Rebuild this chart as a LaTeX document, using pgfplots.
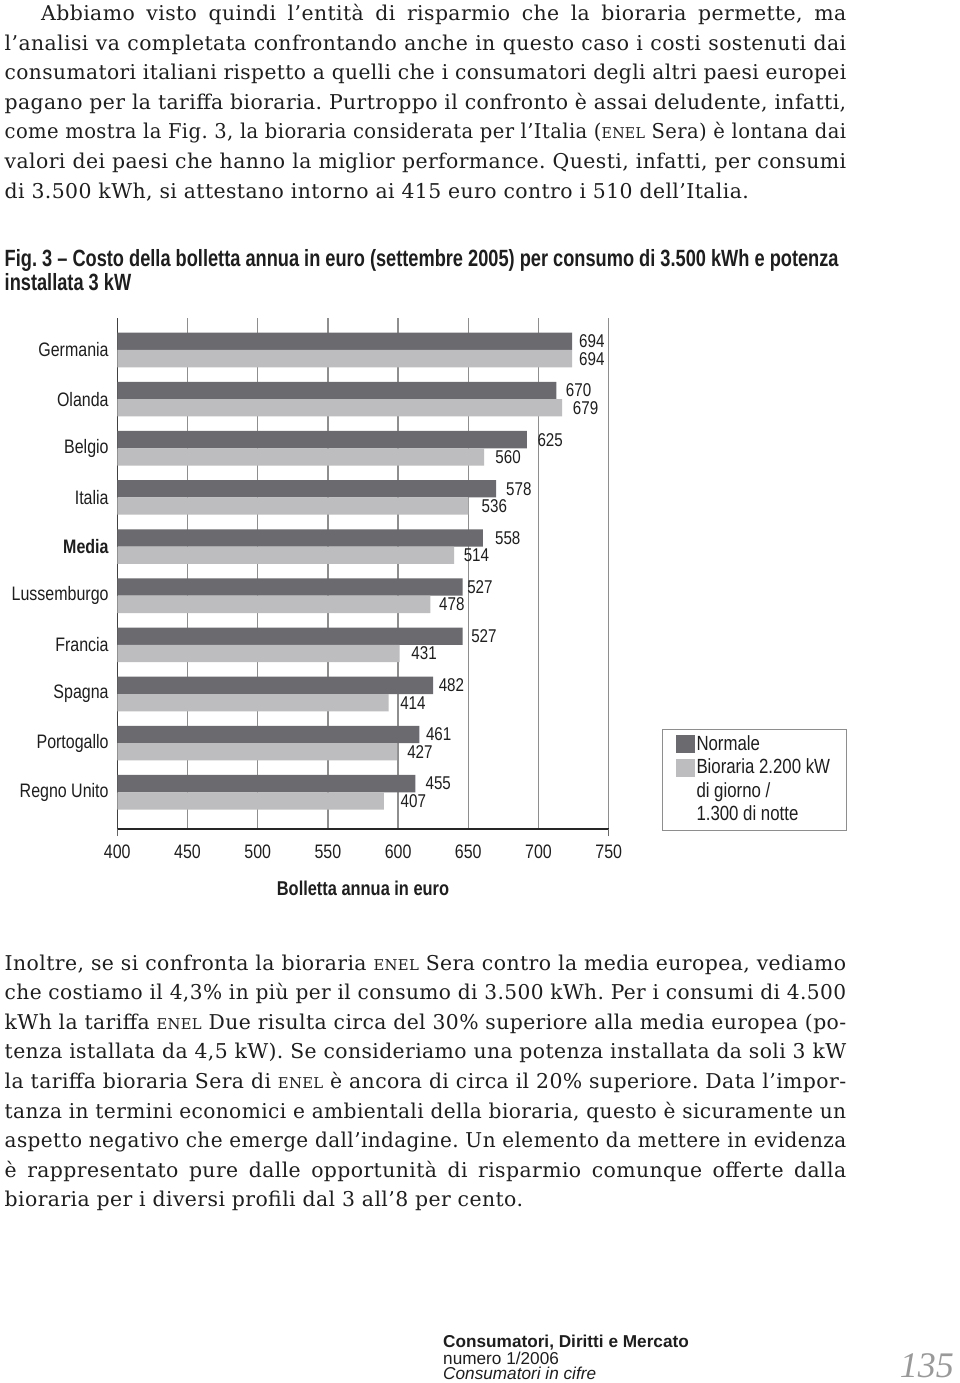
\documentclass[border=0pt]{standalone}
\usepackage{fontspec}
\usepackage{graphicx}
\usepackage{pgfplots}
\usepackage{pgfplotstable}
\pgfplotsset{compat=1.18}
\setmainfont[LetterSpace=2]{DejaVu Serif}
\newfontfamily\chartfont[FakeStretch=0.82]{Liberation Sans}
\newfontfamily\titlefont[FakeStretch=0.775]{Liberation Sans}
\newfontfamily\footfont{Liberation Sans}
\newfontfamily\pagefont{Liberation Serif}
\definecolor{darkbar}{HTML}{6A6A6F}
\definecolor{lightbar}{HTML}{BDBDBF}
\definecolor{gridcol}{HTML}{8E8E8E}
\definecolor{txt}{HTML}{1E1E1E}
\frenchspacing
\newlength\natw
\newcommand\jbox[2]{\settowidth\natw{#2}\ifdim\natw>#1\relax\resizebox{#1}{\height}{#2}\else\makebox[#1][s]{#2}\fi}
\newcommand\jl[3]{\node[anchor=base west, inner sep=0pt] at (#1,#2) {\jbox{\dimexpr846pt-#1pt\relax}{#3}};}
\newcommand\nl[3]{\node[anchor=base west, inner sep=0pt] at (#1,#2) {#3};}
\newcommand\enel{{\fontsize{14.8}{14.8}\selectfont ENEL}}

\pgfplotstableread{
y x dx
9 694 7
8 670 9.5
7 625 10.5
6 578 10
5 558 12
4 527 4.5
3 527 8.5
2 482 5.5
1 461 6.5
0 455 10
}\normale
\pgfplotstableread{
y x dx
9 694 7
8 679 10.5
7 560 11
6 536 13
5 514 9.5
4 478 8.5
3 431 11.5
2 414 11.5
1 427 10
0 407 16.5
}\bioraria

\begin{document}
\begin{tikzpicture}
\useasboundingbox (0pt,0pt) rectangle (960pt,-1383pt);
\fill[white] (0pt,0pt) rectangle (960pt,-1383pt);
\begin{scope}[x=1pt,y=-1pt, every node/.style={text=txt}, font=\fontsize{20.4}{24}\selectfont]
\jl{41}{20.5}{Abbiamo visto quindi l’entità di risparmio che la bioraria permette, ma}
\jl{4.5}{50.1}{l’analisi va completata confrontando anche in questo caso i costi sostenuti dai}
\jl{4.5}{79.7}{consumatori italiani rispetto a quelli che i consumatori degli altri paesi europei}
\jl{4.5}{109.3}{pagano per la tariffa bioraria. Purtroppo il confronto è assai deludente, infatti,}
\jl{4.5}{138.9}{come mostra la Fig. 3, la bioraria considerata per l’Italia (\enel{} Sera) è lontana dai}
\jl{4.5}{168.5}{valori dei paesi che hanno la miglior performance. Questi, infatti, per consumi}
\nl{4.5}{198.1}{di 3.500 kWh, si attestano intorno ai 415 euro contro i 510 dell’Italia.}

\jl{4.5}{970}{Inoltre, se si confronta la bioraria \enel{} Sera contro la media europea, vediamo}
\jl{4.5}{999.6}{che costiamo il 4,3\% in più per il consumo di 3.500 kWh. Per i consumi di 4.500}
\jl{4.5}{1029.2}{kWh la tariffa \enel{} Due risulta circa del 30\% superiore alla media europea (po-}
\jl{4.5}{1058.8}{tenza istallata da 4,5 kW). Se consideriamo una potenza installata da soli 3 kW}
\jl{4.5}{1088.4}{la tariffa bioraria Sera di \enel{} è ancora di circa il 20\% superiore. Data l’impor-}
\jl{4.5}{1118}{tanza in termini economici e ambientali della bioraria, questo è sicuramente un}
\jl{4.5}{1147.6}{aspetto negativo che emerge dall’indagine. Un elemento da mettere in evidenza}
\jl{4.5}{1177.2}{è rappresentato pure dalle opportunità di risparmio comunque offerte dalla}
\nl{4.5}{1206.8}{bioraria per i diversi profili dal 3 all’8 per cento.}

\begin{scope}[font=\titlefont\bfseries\fontsize{23.5}{23.5}\selectfont]
\nl{4.5}{266}{Fig. 3 – Costo della bolletta annua in euro (settembre 2005) per consumo di 3.500 kWh e potenza}
\nl{4.5}{290.5}{installata 3 kW}
\end{scope}

\begin{scope}[font=\footfont\fontsize{17.2}{17.2}\selectfont]
\nl{443}{1347.5}{\bfseries Consumatori, Diritti e Mercato}
\nl{443}{1364}{numero 1/2006}
\nl{443}{1379}{\itshape Consumatori in cifre}
\end{scope}
\node[anchor=base east, inner sep=0pt, text=gray!80, font=\pagefont\itshape\fontsize{36}{36}\selectfont] at (954,1377.5) {135};
\end{scope}

\begin{axis}[
  at={(117.3pt,-829pt)}, anchor=south west,
  scale only axis, width=491.4pt, height=511pt,
  xmin=0, xmax=750, ymin=-0.747, ymax=9.651,
  enlargelimits=false, clip=false,
  xbar, bar width=17.3pt,
  axis x line=bottom, axis y line=left,
  x axis line style={-, draw=black!85, line width=1.3pt},
  y axis line style={-, draw=black!75, line width=1.5pt},
  xmajorgrids, grid style={gridcol, line width=1.3pt},
  tick style={draw=none}, major tick length=0pt,
  /pgf/number format/assume math mode=true,
  xtick={0,107.142857,214.285714,321.428571,428.571429,535.714286,642.857143,750},
  xticklabels={400,450,500,550,600,650,700,750},
  extra x ticks={0,750}, extra x tick labels={},
  extra x tick style={grid=none, major tick length=7pt, tick align=outside,
    tick style={draw=black!60, line width=1.4pt}},
  ytick={0,1,2,3,4,5,6,7,8,9},
  yticklabels={Regno Unito,Portogallo,Spagna,Francia,Lussemburgo,\textbf{Media},Italia,Belgio,Olanda,Germania},
  xticklabel style={font=\chartfont\fontsize{19.5}{19.5}\selectfont, text=txt, inner sep=0pt, anchor=north, yshift=-16pt},
  yticklabel style={font=\chartfont\fontsize{19.5}{19.5}\selectfont, text=txt, inner sep=0pt, anchor=east, xshift=-8.5pt},
  xlabel={Bolletta annua in euro},
  xlabel style={font=\chartfont\bfseries\fontsize{20}{20}\selectfont, text=txt, at={(axis description cs:0.5,-0.1155)}, anchor=center},
  nodes near coords,
  nodes near coords style={font=\chartfont\fontsize{18.5}{18.5}\selectfont, text=txt, anchor=west, inner sep=0pt},
  legend style={at={(axis description cs:1,0)}, anchor=south west, xshift=53pt, yshift=-1.7pt,
    draw=gridcol, line width=1pt, inner xsep=14pt, inner ysep=6pt, row sep=5pt,
    font=\chartfont\fontsize{20.5}{20.5}\selectfont, text=txt,
    cells={anchor=west, text height=13pt, text depth=4pt, inner xsep=3pt, inner ysep=0pt}},
  legend cell align=left,
]
\addplot[fill=darkbar, draw=none, bar shift=8.65pt, forget plot,
  visualization depends on={\thisrow{dx} \as \dx},
  nodes near coords style={xshift=\dx}] table[x=x, y=y] {\normale};
\addplot[fill=lightbar, draw=none, bar shift=-8.65pt, forget plot,
  visualization depends on={\thisrow{dx} \as \dx},
  nodes near coords style={xshift=\dx}] table[x=x, y=y] {\bioraria};
\addlegendimage{legend image code/.code={\fill[darkbar] (0pt,-8.5pt) rectangle (17.3pt,8.5pt);}}
\addlegendentry{Normale}
\addlegendimage{legend image code/.code={\fill[lightbar] (0pt,-8.5pt) rectangle (17.3pt,8.5pt);}}
\addlegendentry{Bioraria 2.200 kW}
\addlegendimage{empty legend}
\addlegendentry{di giorno /}
\addlegendimage{empty legend}
\addlegendentry{1.300 di notte}
\end{axis}
\end{tikzpicture}
\end{document}
